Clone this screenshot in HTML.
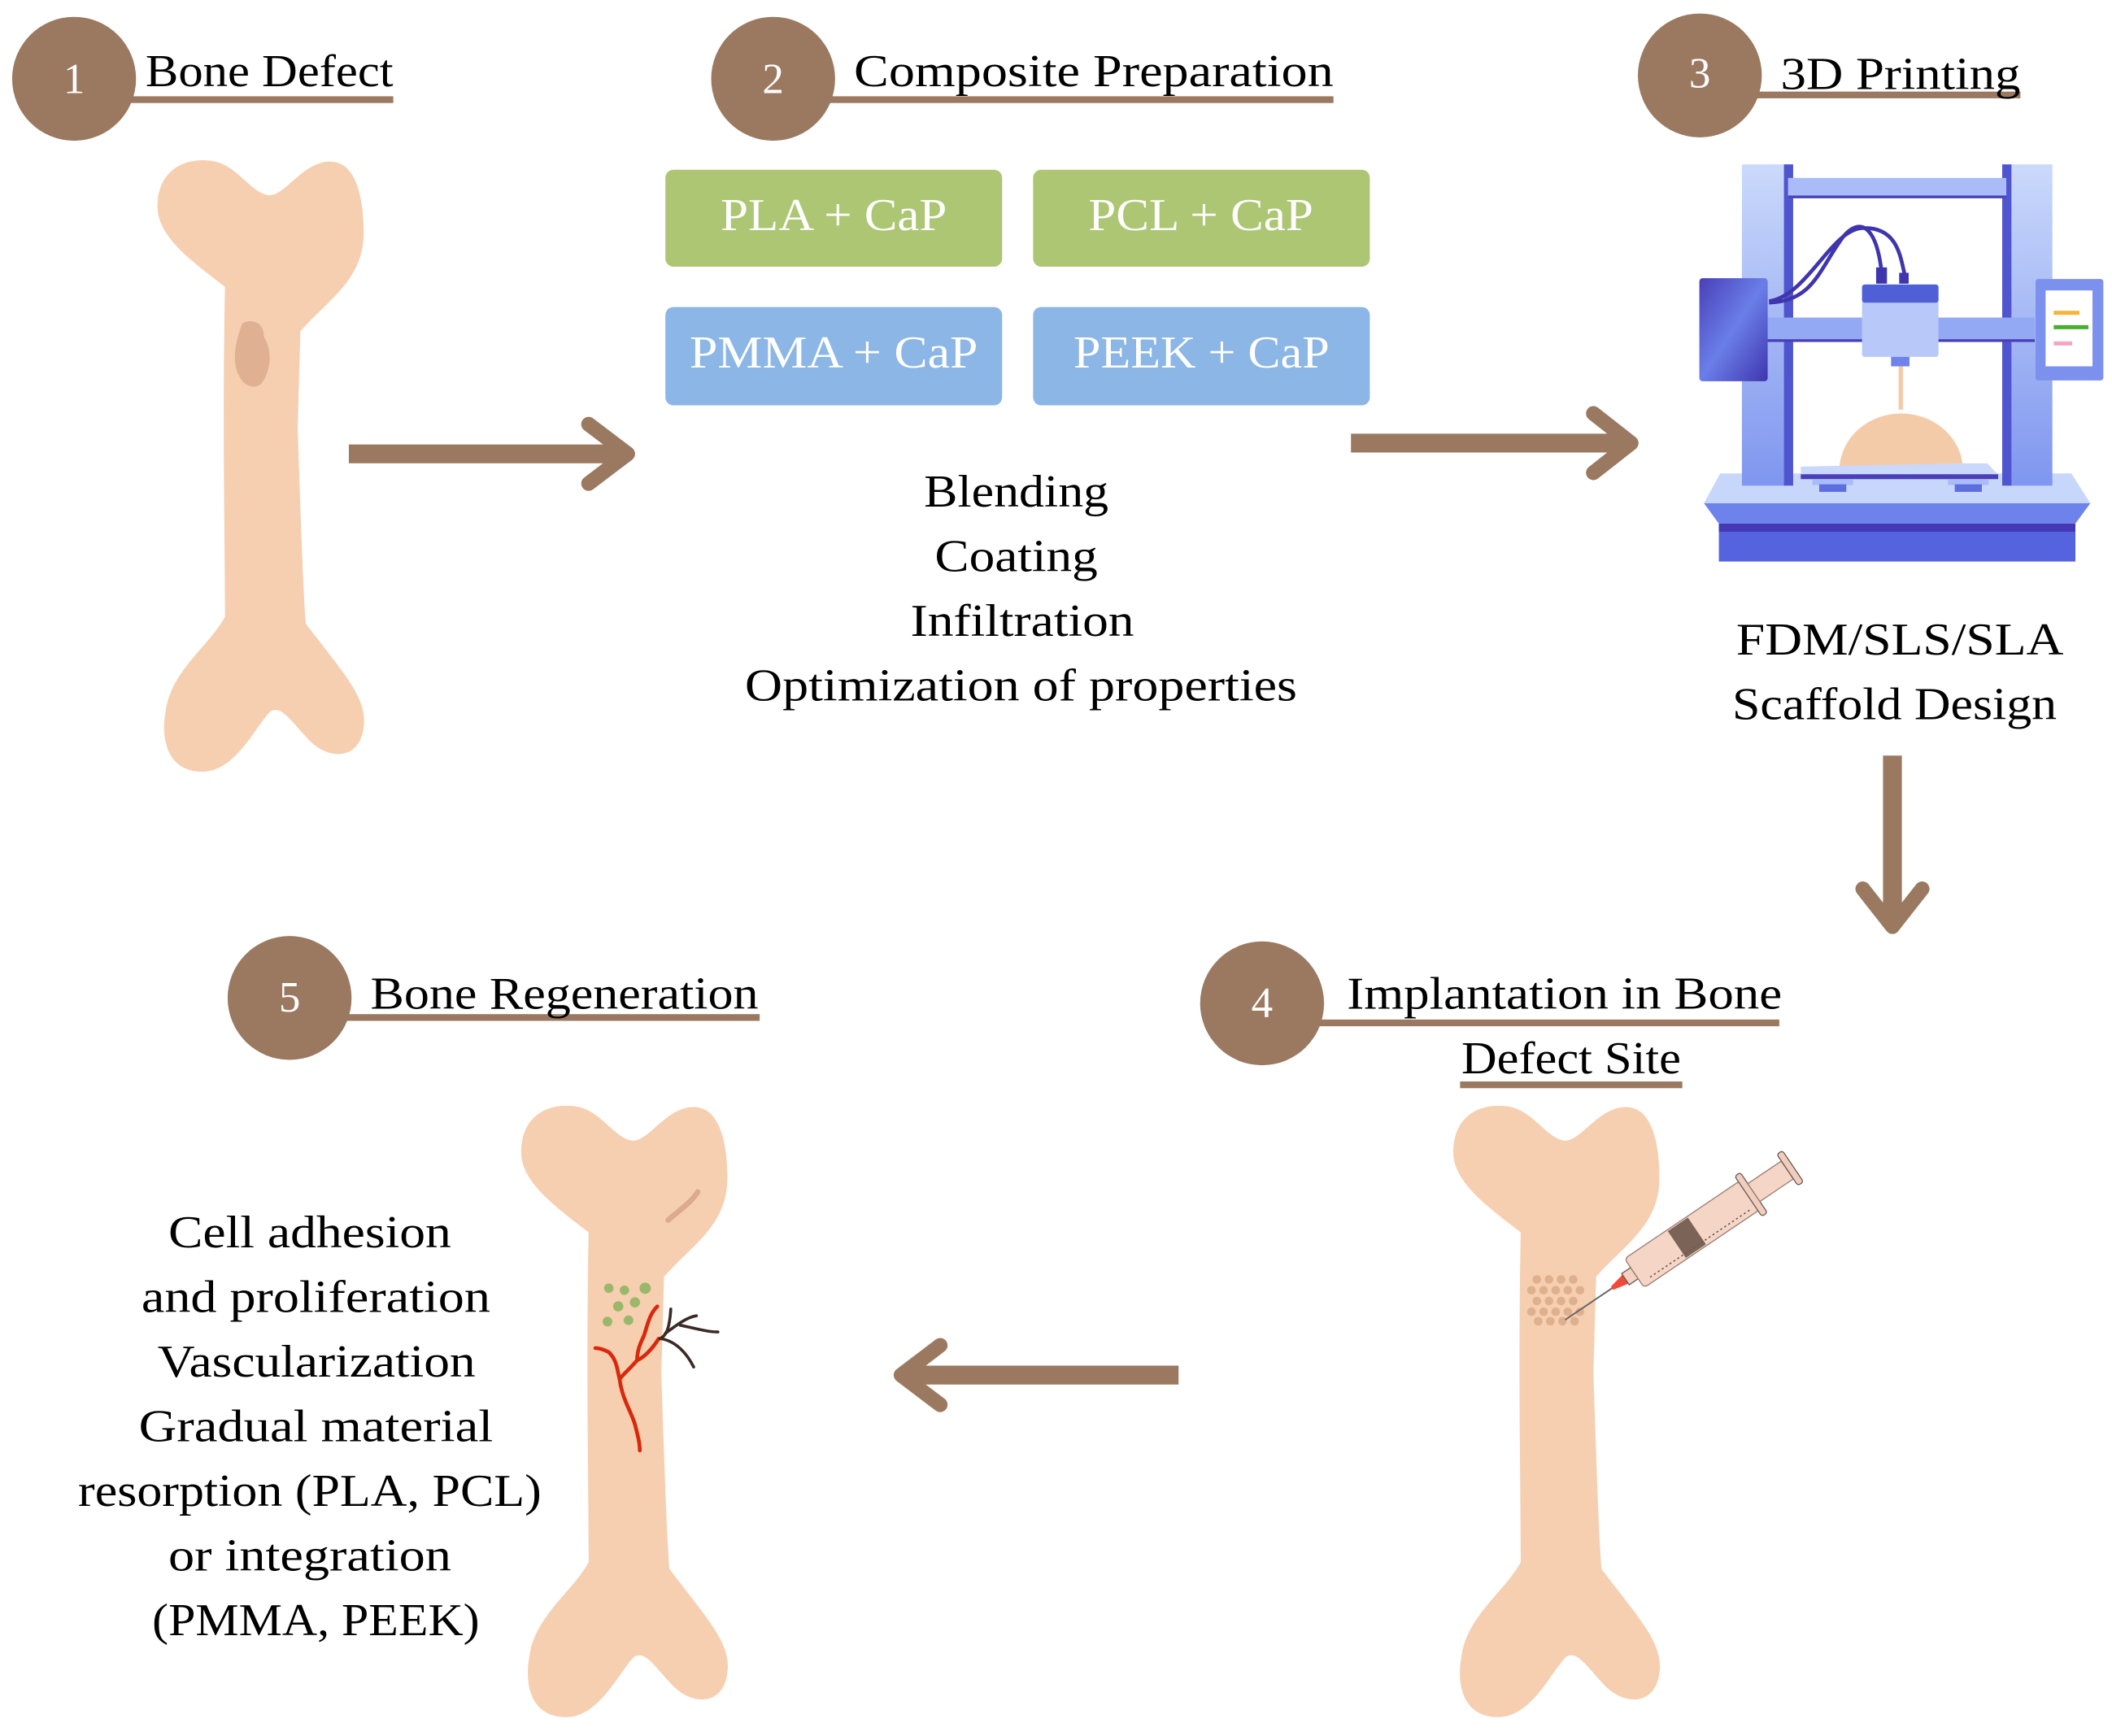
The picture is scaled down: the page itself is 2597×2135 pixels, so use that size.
<!DOCTYPE html>
<html><head><meta charset="utf-8"><style>
html,body{margin:0;padding:0;background:#fff;}
svg{display:block;}
text{font-family:"Liberation Serif",serif;}
</style></head><body>
<svg width="2597" height="2135" viewBox="0 0 1568 1289" preserveAspectRatio="none" xmlns="http://www.w3.org/2000/svg">
<defs>
<path id="bone" d="M52,95 C22,72 0,55 2,32 C4,6 25,-2 45,2 C62,6 72,26 85,27 C97,27 110,2 130,2 C150,2 155,30 155,55 C155,90 128,105 108,128 L106,200 C108,260 110,320 112,345 C140,382 158,400 155,422 C152,447 128,447 113,430 C100,416 94,406 86,410 C74,422 60,455 35,455 C10,455 4,432 8,410 C12,380 40,362 52,340 C52,280 50,200 52,95 Z" fill="#f5cfb0"/>
<linearGradient id="pil" x1="0" y1="0" x2="0" y2="1"><stop offset="0" stop-color="#cbd9fb"/><stop offset="1" stop-color="#7f96ef"/></linearGradient>
<linearGradient id="dk" x1="0" y1="0" x2="1" y2="1"><stop offset="0" stop-color="#4a3fb8"/><stop offset="0.5" stop-color="#6a7ee8"/><stop offset="1" stop-color="#3f35ad"/></linearGradient>
</defs>
<!-- headers -->
<g fill="#9b7961">
<rect x="92" y="71.5" width="200" height="5"/>
<rect x="612" y="71.5" width="378" height="5"/>
<rect x="1300" y="68" width="200" height="5"/>
<rect x="252" y="753" width="312" height="5"/>
<rect x="975" y="757" width="346" height="5"/>
<rect x="1084" y="803" width="165" height="5"/>
<circle cx="55" cy="58.5" r="46"/>
<circle cx="574" cy="58.5" r="46"/>
<circle cx="1262" cy="56" r="46"/>
<circle cx="215" cy="741" r="46"/>
<circle cx="937" cy="745" r="46"/>
</g>
<g fill="#fff" font-size="32" text-anchor="middle">
<text x="55" y="69">1</text><text x="574" y="69">2</text><text x="1262" y="65">3</text>
<text x="215" y="751">5</text><text x="937" y="755">4</text>
</g>
<g fill="#000" font-size="34" lengthAdjust="spacingAndGlyphs">
<text x="108" y="64" textLength="184" lengthAdjust="spacingAndGlyphs">Bone Defect</text>
<text x="634" y="64" textLength="356" lengthAdjust="spacingAndGlyphs">Composite Preparation</text>
<text x="1322" y="66" textLength="178" lengthAdjust="spacingAndGlyphs">3D Printing</text>
<text x="275" y="749" textLength="288" lengthAdjust="spacingAndGlyphs">Bone Regeneration</text>
<text x="1000" y="749" textLength="323" lengthAdjust="spacingAndGlyphs">Implantation in Bone</text>
<text x="1085" y="797" textLength="163" lengthAdjust="spacingAndGlyphs">Defect Site</text>
</g>
<!-- boxes -->
<rect x="494" y="126" width="250" height="72" rx="6" fill="#adc673"/>
<rect x="767" y="126" width="250" height="72" rx="6" fill="#adc673"/>
<rect x="494" y="228" width="250" height="73" rx="6" fill="#8bb6e6"/>
<rect x="767" y="228" width="250" height="73" rx="6" fill="#8bb6e6"/>
<g fill="#fff" font-size="34">
<text x="535" y="171" textLength="168" lengthAdjust="spacingAndGlyphs">PLA + CaP</text>
<text x="808" y="171" textLength="167" lengthAdjust="spacingAndGlyphs">PCL + CaP</text>
<text x="512" y="273" textLength="214" lengthAdjust="spacingAndGlyphs">PMMA + CaP</text>
<text x="797" y="273" textLength="190" lengthAdjust="spacingAndGlyphs">PEEK + CaP</text>
</g>
<g fill="#000" font-size="34">
<text x="686" y="376" textLength="137" lengthAdjust="spacingAndGlyphs">Blending</text>
<text x="694" y="424" textLength="121" lengthAdjust="spacingAndGlyphs">Coating</text>
<text x="676" y="472" textLength="166" lengthAdjust="spacingAndGlyphs">Infiltration</text>
<text x="553" y="520" textLength="410" lengthAdjust="spacingAndGlyphs">Optimization of properties</text>
<text x="1289" y="486" textLength="243" lengthAdjust="spacingAndGlyphs">FDM/SLS/SLA</text>
<text x="1286" y="534" textLength="241" lengthAdjust="spacingAndGlyphs">Scaffold Design</text>
<text x="125" y="926" textLength="210" lengthAdjust="spacingAndGlyphs">Cell adhesion</text>
<text x="105" y="974" textLength="259" lengthAdjust="spacingAndGlyphs">and proliferation</text>
<text x="117" y="1022" textLength="236" lengthAdjust="spacingAndGlyphs">Vascularization</text>
<text x="103" y="1070" textLength="263" lengthAdjust="spacingAndGlyphs">Gradual material</text>
<text x="58" y="1118" textLength="344" lengthAdjust="spacingAndGlyphs">resorption (PLA, PCL)</text>
<text x="125" y="1166" textLength="210" lengthAdjust="spacingAndGlyphs">or integration</text>
<text x="113" y="1214" textLength="243" lengthAdjust="spacingAndGlyphs">(PMMA, PEEK)</text>
</g>
<!-- arrows -->
<g stroke="#9b7961" fill="none" stroke-linecap="round" stroke-linejoin="round">
<line x1="259" y1="337" x2="462" y2="337" stroke-width="14" stroke-linecap="butt"/>
<polyline points="437,315 466,337 437,359" stroke-width="11"/>
<line x1="1003" y1="329" x2="1208" y2="329" stroke-width="14" stroke-linecap="butt"/>
<polyline points="1183,307 1211,329 1183,351" stroke-width="11"/>
<line x1="1405" y1="561" x2="1405" y2="685" stroke-width="14" stroke-linecap="butt"/>
<polyline points="1383,660 1405,688 1427,660" stroke-width="11"/>
<line x1="875" y1="1021" x2="674" y2="1021" stroke-width="14" stroke-linecap="butt"/>
<polyline points="698,999 669,1021 698,1043" stroke-width="11"/>
</g>
<!-- bones -->
<use href="#bone" x="115" y="118"/>
<path d="M180,240 C188,236 196,240 196,250 C203,262 200,275 196,282 C192,290 182,288 178,280 C172,270 174,255 180,240 Z" fill="#dfb192"/>
<use href="#bone" x="385" y="820"/>
<use href="#bone" x="1077" y="820"/>
<!-- bone 5 details -->
<path d="M496,906 C505,898 514,892 518,885" stroke="#dcab8c" stroke-width="4" fill="none" stroke-linecap="round"/>
<g fill="#9bb86a">
<circle cx="452" cy="956.5" r="3.5"/><circle cx="463.6" cy="958" r="3.5"/><circle cx="479" cy="956.5" r="4.2"/>
<circle cx="459" cy="970" r="3.8"/><circle cx="471.4" cy="967" r="3.8"/><circle cx="451" cy="981.3" r="3.6"/><circle cx="466.6" cy="980.3" r="3.6"/>
</g>
<g stroke="#d9280c" fill="none" stroke-width="2.8" stroke-linecap="round">
<path d="M488,970 C482,976 481,983 478,992 C474,1000 473,1005 473,1010 C468,1016 463,1020 460,1024 C458,1016 458,1010 452,1004 C448,1002 445,1001 442,1001"/>
<path d="M460,1024 C462,1040 470,1050 472,1060 C474,1068 475,1072 475,1077"/>
<path d="M489,994 C484,1002 478,1008 473,1010"/>
</g>
<g stroke="#3a2a24" fill="none" stroke-width="2.2" stroke-linecap="round">
<path d="M490,994 C494,992 497,988 498,972"/>
<path d="M494,990 C502,984 510,978 517,977"/>
<path d="M505,984 C515,986 525,989 533,989"/>
<path d="M491,994 C502,996 510,1005 515,1015"/>
</g>
<!-- bone 4 dots -->
<g fill="#dfb08e">
<circle cx="1141" cy="950" r="3.2"/><circle cx="1150" cy="950" r="3.2"/><circle cx="1159" cy="950" r="3.2"/><circle cx="1168" cy="950" r="3.2"/>
<circle cx="1137" cy="958" r="3.2"/><circle cx="1146" cy="958" r="3.2"/><circle cx="1155" cy="958" r="3.2"/><circle cx="1164" cy="958" r="3.2"/><circle cx="1173" cy="958" r="3.2"/>
<circle cx="1141" cy="966" r="3.2"/><circle cx="1150" cy="966" r="3.2"/><circle cx="1159" cy="966" r="3.2"/><circle cx="1168" cy="966" r="3.2"/>
<circle cx="1137" cy="974" r="3.2"/><circle cx="1146" cy="974" r="3.2"/><circle cx="1155" cy="974" r="3.2"/><circle cx="1164" cy="974" r="3.2"/><circle cx="1173" cy="974" r="3.2"/>
<circle cx="1142" cy="981" r="3.2"/><circle cx="1151" cy="981" r="3.2"/><circle cx="1160" cy="981" r="3.2"/><circle cx="1169" cy="981" r="3.2"/>
</g>
<!-- syringe -->
<g transform="translate(1162,980) rotate(-34)">
<line x1="0" y1="0" x2="44" y2="0" stroke="#666" stroke-width="1.2"/>
<polygon points="42,-1.5 54,-4 54,4 42,1.5" fill="#f04a3a"/>
<rect x="54" y="-5" width="8" height="10" fill="#f3d2c2" stroke="#6b5a55" stroke-width="0.8"/>
<rect x="62" y="-13" width="105" height="26" rx="3" fill="#f5d6c6" stroke="#9a7d72" stroke-width="0.8"/>
<rect x="100" y="-12" width="18" height="24" fill="#7b6358"/>
<line x1="70" y1="9" x2="160" y2="9" stroke="#6b5a55" stroke-width="1" stroke-dasharray="1.5 2"/>
<rect x="164" y="-18" width="5" height="36" rx="2" fill="#f0cdbd" stroke="#6b5a55" stroke-width="0.8"/>
<rect x="169" y="-8" width="30" height="16" fill="#f5d6c6" stroke="#9a7d72" stroke-width="0.8"/>
<rect x="199" y="-14" width="5" height="28" rx="2" fill="#f0cdbd" stroke="#6b5a55" stroke-width="0.8"/>
</g>
<!-- printer -->
<g transform="translate(1256,115) scale(0.2013)">
<polygon points="105,1175 1400,1175 1470,1285 45,1285" fill="#c7d6fb"/>
<polygon points="45,1285 1470,1285 1415,1360 100,1360" fill="#6d82ea"/>
<rect x="100" y="1360" width="1315" height="140" fill="#5564de"/>
<rect x="100" y="1360" width="1315" height="30" fill="#4438b5"/>
<rect x="185" y="35" width="160" height="1185" fill="url(#pil)"/>
<rect x="340" y="35" width="34" height="1185" fill="#4f55cf"/>
<rect x="1175" y="35" width="155" height="1185" fill="url(#pil)"/>
<rect x="1145" y="35" width="34" height="1185" fill="#4f55cf"/>
<rect x="355" y="85" width="805" height="75" fill="#a9bcf7"/>
<rect x="355" y="150" width="805" height="10" fill="#4a3fb8"/>
<rect x="280" y="600" width="985" height="90" fill="#93a9f3"/>
<rect x="280" y="680" width="985" height="10" fill="#4a3fb8"/>
<path d="M285,545 C450,540 470,420 560,300 C620,230 680,260 700,430 M285,540 C430,520 520,260 640,270 C760,270 770,380 785,440" stroke="#3f35ad" stroke-width="14" fill="none"/>
<rect x="680" y="415" width="40" height="60" fill="#3f35ad"/>
<rect x="765" y="435" width="35" height="40" fill="#3f35ad"/>
<rect x="28" y="455" width="252" height="380" rx="12" fill="url(#dk)"/>
<rect x="628" y="478" width="282" height="267" rx="10" fill="#b7c8f9"/>
<rect x="628" y="478" width="282" height="67" rx="10" fill="#4f5fd6"/>
<rect x="735" y="745" width="68" height="35" fill="#6f83ea"/>
<rect x="763" y="780" width="16" height="160" fill="#f4cba9"/>
<rect x="1268" y="458" width="250" height="374" rx="10" fill="#7c91ee"/>
<rect x="1305" y="500" width="173" height="280" fill="#fff"/>
<rect x="1335" y="575" width="95" height="15" fill="#f5b53a"/>
<rect x="1335" y="628" width="128" height="15" fill="#4aae30"/>
<rect x="1335" y="688" width="68" height="15" fill="#f6a6c5"/>
<path d="M545,1150 A228,210 0 0 1 1000,1150 Z" fill="#f4cba9"/>
<polygon points="990,1138 1090,1138 1130,1180 402,1180 402,1150" fill="#c9d8fb"/>
<rect x="402" y="1178" width="728" height="18" fill="#4a3fb8"/>
<rect x="445" y="1196" width="150" height="22" fill="#a9bcf7"/>
<rect x="945" y="1196" width="150" height="22" fill="#a9bcf7"/>
<rect x="470" y="1215" width="100" height="28" fill="#5d6fe0"/>
<rect x="970" y="1215" width="100" height="28" fill="#5d6fe0"/>
</g>
</svg>
</body></html>
